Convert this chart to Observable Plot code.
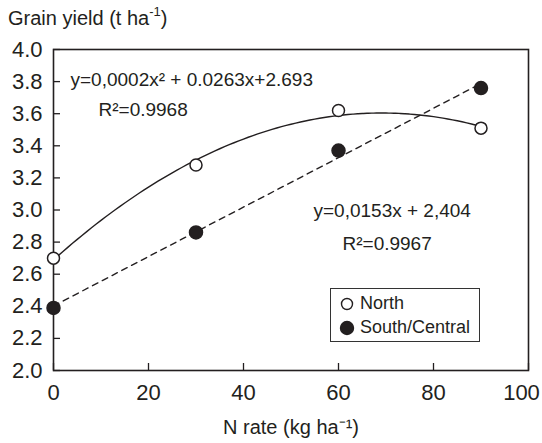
<!DOCTYPE html>
<html><head><meta charset="utf-8">
<script src="https://cdn.jsdelivr.net/npm/d3@7"></script>
<script src="https://cdn.jsdelivr.net/npm/@observablehq/plot@0.6"></script>
<style>
body{margin:0;background:#fff;font-family:"Liberation Sans",Arial,sans-serif;color:#231f20}
#wrap{position:relative;width:542px;height:443px;overflow:hidden}
#title{position:absolute;left:8px;top:7px;font-size:20px;white-space:nowrap}
#title sup{font-size:13px;vertical-align:9px;line-height:0}
#legend{position:absolute;left:330px;top:288px;width:150px;height:54px;border:1.5px solid #333;box-sizing:border-box;background:#fff}
.item{position:absolute;left:0;font-size:18px;white-space:nowrap;line-height:20px}
.item svg{position:absolute;left:8px;top:3px}
.item span{position:absolute;left:29px;top:0}
</style></head>
<body><div id="wrap"><div id="chart"></div><div id="title">Grain yield (t ha<sup>-1</sup>)</div><div id="legend"></div></div>
<script>
const nRate = [0, 30, 60, 90];
const northYield = [2.70, 3.28, 3.62, 3.51];
const southYield = [2.39, 2.86, 3.37, 3.76];
const xTicks = [0, 20, 40, 60, 80, 100];
const yTicks = [2.0, 2.2, 2.4, 2.6, 2.8, 3.0, 3.2, 3.4, 3.6, 3.8, 4.0];
const seriesNames = ["North", "South/Central"];
const northEquation = "y=0,0002x² + 0.0263x+2.693";
const northR2 = "R²=0.9968";
const southEquation = "y=0,0153x + 2,404";
const southR2 = "R²=0.9967";
const xTitle = "N rate (kg ha⁻¹)";

const north = nRate.map((x, i) => ({x, y: northYield[i]}));
const south = nRate.map((x, i) => ({x, y: southYield[i]}));

// least-squares quadratic trendline from the North points
function quadFit(xs, ys) {
  const S = k => d3.sum(xs, x => x ** k);
  const T = k => d3.sum(xs, (x, i) => ys[i] * x ** k);
  const A = [[S(0), S(1), S(2)], [S(1), S(2), S(3)], [S(2), S(3), S(4)]];
  const B = [T(0), T(1), T(2)];
  const det = m => m[0][0]*(m[1][1]*m[2][2]-m[1][2]*m[2][1]) - m[0][1]*(m[1][0]*m[2][2]-m[1][2]*m[2][0]) + m[0][2]*(m[1][0]*m[2][1]-m[1][1]*m[2][0]);
  const D = det(A);
  const col = j => A.map((r, i) => r.map((v, k) => k === j ? B[i] : v));
  return [det(col(0)) / D, det(col(1)) / D, det(col(2)) / D];
}
const [c0, c1, c2] = quadFit(nRate, northYield);
const fitX = d3.range(d3.min(nRate), d3.max(nRate) + 0.001, 1);
const northFit = fitX.map(x => ({x, y: c0 + c1 * x + c2 * x * x}));

const ink = "#231f20";
const W = 542, H = 443, mL = 53, mR = 14, mT = 49, mB = 73, tick = 7;
const chart = Plot.plot({
  width: W, height: H,
  marginLeft: mL, marginRight: mR, marginTop: mT, marginBottom: mB,
  style: {fontFamily: '"Liberation Sans", Arial, sans-serif', color: ink, background: "#fff"},
  x: {domain: [0, 100]},
  y: {domain: [2, 4]},
  marks: [
    Plot.axisY(yTicks, {tickSize: 0, tickPadding: 11, tickFormat: d3.format(".1f"), fontSize: 22, label: null}),
    Plot.axisX(xTicks.slice(0, -1), {tickSize: 0, tickPadding: 14, fontSize: 22, label: null}),
    Plot.axisX(xTicks.slice(-1), {tickSize: 0, tickPadding: 14, fontSize: 22, label: null, dx: -7}),
    Plot.ruleY(yTicks, {stroke: ink, strokeWidth: 1.3, insetRight: W - mL - mR - tick}),
    Plot.ruleX(xTicks, {stroke: ink, strokeWidth: 1.3, insetTop: H - mT - mB - tick}),
    Plot.text([xTitle], {frameAnchor: "bottom", dy: 63, fontSize: 20, fill: ink}),
    Plot.frame({stroke: ink, strokeWidth: 1.6}),
    Plot.line(northFit, {x: "x", y: "y", stroke: ink, strokeWidth: 1.4, curve: "natural"}),
    Plot.linearRegressionY(south, {x: "x", y: "y", ci: 0, stroke: ink, strokeWidth: 1.4, strokeDasharray: "6,5"}),
    Plot.dot(north, {x: "x", y: "y", r: 6, fill: "#fff", stroke: ink, strokeWidth: 1.5}),
    Plot.dot(south, {x: "x", y: "y", r: 6.5, fill: ink, stroke: ink}),
    Plot.text([northEquation], {frameAnchor: "top-left", dx: 17, dy: 23, textAnchor: "start", fontSize: 19, fill: ink}),
    Plot.text([northR2], {frameAnchor: "top-left", dx: 45, dy: 53, textAnchor: "start", fontSize: 19, fill: ink}),
    Plot.text([southEquation], {frameAnchor: "top-left", dx: 260, dy: 154, textAnchor: "start", fontSize: 19, fill: ink}),
    Plot.text([southR2], {frameAnchor: "top-left", dx: 289, dy: 187, textAnchor: "start", fontSize: 19, fill: ink})
  ]
});
document.getElementById("chart").appendChild(chart);

const legend = document.getElementById("legend");
seriesNames.forEach((name, i) => {
  const d = document.createElement("div");
  d.className = "item";
  d.style.top = (4 + i * 24) + "px";
  const filled = i === 1;
  d.innerHTML = `<svg width="16" height="16"><circle cx="8" cy="8" r="${filled ? 6.5 : 5.5}" fill="${filled ? ink : "#fff"}" stroke="${ink}" stroke-width="1.4"/></svg><span>${name}</span>`;
  legend.appendChild(d);
});
</script>
</body></html>
